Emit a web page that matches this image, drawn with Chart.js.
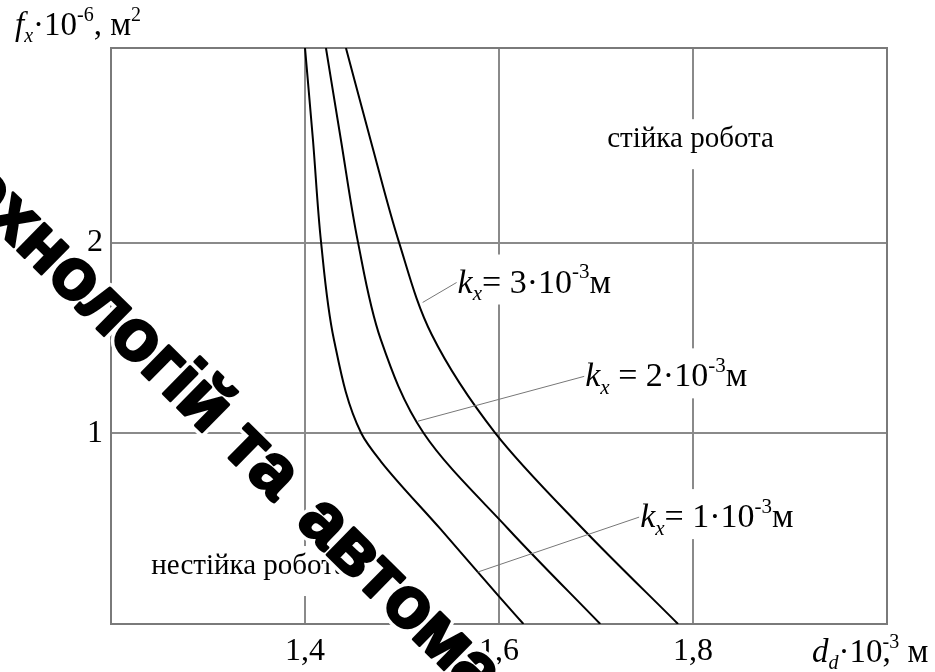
<!DOCTYPE html>
<html>
<head>
<meta charset="utf-8">
<script src="https://cdn.jsdelivr.net/npm/chart.js@4.4.1/dist/chart.umd.min.js"></script>
<style>
  html, body { margin: 0; background: #fff; }
  #wrap { width: 935px; height: 672px; position: relative; }
</style>
</head>
<body>
<div id="wrap"><canvas id="chart" width="935" height="672"></canvas></div>
<script>
// f_x (10^-6 m^2) against d_d (10^-3 m) for three values of k_x
const k1X = [1.400, 1.4082, 1.4165, 1.4298, 1.4580, 1.4781, 1.5398, 1.5995, 1.6252];
const k1Y = [3.02, 2.539, 2.005, 1.492, 1.00, 0.853, 0.497, 0.147, 0];
const k2X = [1.4216, 1.4370, 1.4545, 1.4781, 1.5224, 1.6098, 1.7044];
const k2Y = [3.02, 2.539, 2.005, 1.492, 1.00, 0.497, 0];
const k3X = [1.4422, 1.4689, 1.4967, 1.5306, 1.5964, 1.6869, 1.7846];
const k3Y = [3.02, 2.513, 2.005, 1.518, 1.00, 0.497, 0];

const xTicks = [1.4, 1.6, 1.8];
const yTicks = [1, 2];

const SERIF = '"Liberation Serif", "Times New Roman", serif';

function toPoints(xs, ys) {
  return xs.map((x, i) => ({ x: x, y: ys[i] }));
}

// rich text: italics, subscripts, superscripts
function drawRich(ctx, x, y, parts, size) {
  let kept = 0;
  for (const p of parts) {
    const small = p.sub || p.sup;
    const fs = small ? Math.round(size * 0.62) : size;
    ctx.font = (p.it ? 'italic ' : '') + fs + 'px ' + SERIF;
    const dy = p.sub ? size * 0.22 : p.sup ? -size * 0.42 : 0;
    ctx.fillText(p.t, x, y + dy);
    const w = ctx.measureText(p.t).width;
    if (p.keep) { kept = w; continue; }
    x += Math.max(w, kept);
    kept = 0;
  }
  return x;
}

function richWidth(ctx, parts, size) {
  ctx.save();
  ctx.globalAlpha = 0;
  const end = drawRich(ctx, 0, 0, parts, size);
  ctx.restore();
  return end;
}

const K_SIZE = 34;
const ZONE_SIZE = 29;

const kLabels = [
  { x: 1.5573, y: 1.738, to: [1.5213, 1.686],
    parts: [{ t: 'k', it: 1 }, { t: 'x', it: 1, sub: 1 }, { t: '= 3·10' }, { t: '-3', sup: 1 }, { t: 'м' }] },
  { x: 1.6889, y: 1.246, to: [1.5162, 1.063],
    parts: [{ t: 'k', it: 1 }, { t: 'x', it: 1, sub: 1 }, { t: ' = 2·10' }, { t: '-3', sup: 1 }, { t: 'м' }] },
  { x: 1.7455, y: 0.508, to: [1.5779, 0.272],
    parts: [{ t: 'k', it: 1 }, { t: 'x', it: 1, sub: 1 }, { t: '= 1·10' }, { t: '-3', sup: 1 }, { t: 'м' }] }
];

const zoneLabels = [
  { x: 1.7116, y: 2.50, text: 'стійка робота' },
  { x: 1.2416, y: 0.262, text: 'нестійка робота' }
];

const decorations = {
  id: 'decorations',
  beforeDatasetsDraw(chart) {
    const { ctx, chartArea: a, scales: { x, y } } = chart;
    ctx.save();
    // top and right frame
    ctx.strokeStyle = '#7a7a7a';
    ctx.lineWidth = 2;
    ctx.beginPath();
    ctx.moveTo(a.left, a.top);
    ctx.lineTo(a.right, a.top);
    ctx.lineTo(a.right, a.bottom);
    ctx.stroke();
    // white boxes behind labels break the grid lines
    ctx.fillStyle = '#fff';
    for (const l of kLabels) {
      const px = x.getPixelForValue(l.x), py = y.getPixelForValue(l.y);
      const w = richWidth(ctx, l.parts, K_SIZE);
      ctx.fillRect(px - 2, py - 38, w + 6, 50);
    }
    ctx.font = ZONE_SIZE + 'px ' + SERIF;
    for (const l of zoneLabels) {
      const px = x.getPixelForValue(l.x), py = y.getPixelForValue(l.y);
      const w = ctx.measureText(l.text).width;
      ctx.fillRect(px - 2, py - 28, w + 6, 50);
    }
    ctx.restore();
  },
  afterDatasetsDraw(chart) {
    const { ctx, scales: { x, y } } = chart;
    ctx.save();
    ctx.fillStyle = '#000';
    ctx.textBaseline = 'alphabetic';
    ctx.textAlign = 'left';
    for (const l of kLabels) {
      const px = x.getPixelForValue(l.x), py = y.getPixelForValue(l.y);
      ctx.strokeStyle = '#777';
      ctx.lineWidth = 1;
      ctx.beginPath();
      ctx.moveTo(px - 1, py - 10);
      ctx.lineTo(x.getPixelForValue(l.to[0]), y.getPixelForValue(l.to[1]));
      ctx.stroke();
      drawRich(ctx, px, py, l.parts, K_SIZE);
    }
    ctx.font = ZONE_SIZE + 'px ' + SERIF;
    for (const l of zoneLabels) {
      ctx.fillText(l.text, x.getPixelForValue(l.x), y.getPixelForValue(l.y));
    }
    // axis titles
    drawRich(ctx, 15, 35, [
      { t: 'f', it: 1 }, { t: 'x', it: 1, sub: 1 }, { t: '·10' }, { t: '-6', sup: 1 }, { t: ', м' }, { t: '2', sup: 1 }
    ], 33);
    drawRich(ctx, 812, 662, [
      { t: 'd', it: 1 }, { t: 'd', it: 1, sub: 1 }, { t: '·10' }, { t: '-3', sup: 1, keep: 1 }, { t: ',' }, { t: ' м' }
    ], 33);
    ctx.restore();
  },
  afterDraw(chart) {
    const { ctx } = chart;
    // rotated watermark line, two word groups
    const first = 'технологій та';
    const second = 'автоматизації';
    ctx.save();
    ctx.translate(14, 247);
    ctx.rotate(44.5 * Math.PI / 180);
    ctx.font = 'bold 72px "Liberation Sans", Arial, sans-serif';
    ctx.textBaseline = 'alphabetic';
    const start = -ctx.measureText('тех').width;
    const gap = ctx.measureText(first + ' ').width + 10;
    ctx.lineJoin = 'round';
    const pass = (fn) => {
      fn(first, start, 0);
      fn(second, start + gap, 0);
    };
    ctx.strokeStyle = '#fff';
    ctx.lineWidth = 10;
    pass((t, a, b) => ctx.strokeText(t, a, b));
    ctx.fillStyle = '#000';
    ctx.strokeStyle = '#000';
    ctx.lineWidth = 3;
    pass((t, a, b) => { ctx.fillText(t, a, b); ctx.strokeText(t, a, b); });
    ctx.restore();
  }
};

// curves are smoothed along y: x changes monotonically as f_x drops
const curveStyle = {
  showLine: true,
  borderColor: '#000',
  borderWidth: 2,
  pointRadius: 0,
  indexAxis: 'y',
  cubicInterpolationMode: 'monotone',
  fill: false
};

new Chart(document.getElementById('chart'), {
  type: 'scatter',
  data: {
    datasets: [
      Object.assign({ label: 'kx = 1', data: toPoints(k1X, k1Y) }, curveStyle),
      Object.assign({ label: 'kx = 2', data: toPoints(k2X, k2Y) }, curveStyle),
      Object.assign({ label: 'kx = 3', data: toPoints(k3X, k3Y) }, curveStyle)
    ]
  },
  options: {
    responsive: false,
    animation: false,
    layout: { padding: { left: 0, right: 48, top: 48, bottom: 0 } },
    plugins: { legend: { display: false }, tooltip: { enabled: false } },
    scales: {
      x: {
        type: 'linear',
        min: 1.2,
        max: 2.0,
        afterBuildTicks: s => { s.ticks = xTicks.map(v => ({ value: v })); },
        afterFit: s => { s.height = 48; },
        grid: { color: '#8a8a8a', lineWidth: 2, drawTicks: false },
        border: { display: true, color: '#7a7a7a', width: 2 },
        ticks: {
          color: '#000',
          padding: 8,
          font: { family: SERIF, size: 32 },
          callback: v => v.toFixed(1).replace('.', ',')
        }
      },
      y: {
        type: 'linear',
        min: 0,
        max: 3.02,
        afterBuildTicks: s => { s.ticks = yTicks.map(v => ({ value: v })); },
        afterFit: s => { s.width = 111; },
        grid: { color: '#8a8a8a', lineWidth: 2, drawTicks: false },
        border: { display: true, color: '#7a7a7a', width: 2 },
        ticks: {
          color: '#000',
          padding: 8,
          font: { family: SERIF, size: 32 },
          callback: v => String(v)
        }
      }
    }
  },
  plugins: [decorations]
});
</script>
</body>
</html>
